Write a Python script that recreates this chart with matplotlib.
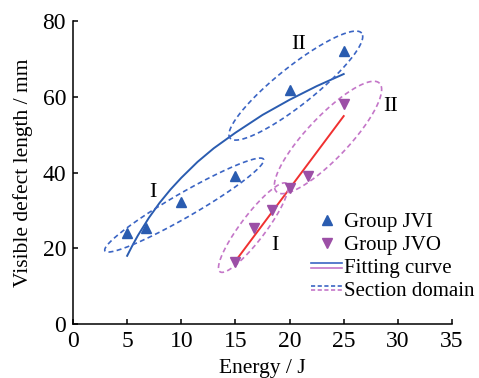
import numpy as np
import matplotlib
matplotlib.use("Agg")
import matplotlib.pyplot as plt
from matplotlib.lines import Line2D
from matplotlib.legend_handler import HandlerBase

plt.rcParams['font.family'] = ['Liberation Serif', 'DejaVu Serif']

# ---- data ----
jvi_x = [5, 6.7, 10, 15, 20, 25]
jvi_y = [24, 25.4, 32.3, 39, 61.7, 72.1]
jvo_x = [15, 16.7, 18.4, 20, 21.7, 25]
jvo_y = [16.3, 25.4, 30, 35.8, 39, 58]
# fitting curves
fit_jvi_x = [5, 5.5, 6, 7, 8, 9, 10, 11.5, 13, 15, 17.5, 20, 22.5, 25]
fit_jvi_y = [18, 20.8, 23.4, 28, 32, 35.5, 38.6, 42.8, 46.4, 50.5, 55.2, 59.2, 62.8, 66]
fit_jvo_x = [15, 25]
fit_jvo_y = [16.6, 54.9]
# section domains: (tip1, tip2) in data units, semi-minor width in px
domains = {
    'jvi_I': ((2.95, 19.3), (17.6, 43.5), 12),
    'jvi_II': ((14.5, 49.1), (26.66, 76.8), 19),
    'jvo_I': ((13.57, 13.8), (19.73, 37.1), 12.5),
    'jvo_II': ((18.8, 34.9), (28.3, 63.6), 21),
}
region_labels = [('I', 7.4, 34.8), ('II', 20.8, 73.9), ('II', 29.3, 57.3), ('I', 18.65, 20.8)]
x_ticks = [0, 5, 10, 15, 20, 25, 30, 35]
y_ticks = [0, 20, 40, 60, 80]

blue = '#2a5cb0'
blue_d = '#3b65c4'
purple = '#9c4fa6'
purple_d = '#c476c8'
red = '#f03030'

fig = plt.figure(figsize=(4.79, 3.78), dpi=100)
ax = fig.add_axes([0.1524, 0.1429, 0.7912, 0.8015])
ax.set_xlim(0, 35)
ax.set_ylim(0, 80)
ax.set_xticks(x_ticks)
ax.set_yticks(y_ticks)
for s in ['top', 'right']:
    ax.spines[s].set_visible(False)
for s in ['left', 'bottom']:
    ax.spines[s].set_linewidth(1.1)
ax.tick_params(direction='in', length=3.5, width=1.1, labelsize=17, pad=5)
ax.set_xlabel('Energy / J', fontsize=15.5, labelpad=5)
ax.set_ylabel('Visible defect length / mm', fontsize=15.5, labelpad=7)

# fitting curves
ax.plot(fit_jvi_x, fit_jvi_y, color=blue, lw=1.4)
ax.plot(fit_jvo_x, fit_jvo_y, color=red, lw=1.4)

# ellipses
fig.canvas.draw()
def draw_domain(tip1, tip2, b, color):
    p1 = ax.transData.transform(tip1)
    p2 = ax.transData.transform(tip2)
    c = (p1 + p2) / 2
    u = (p2 - p1) / 2
    a = np.hypot(*u)
    e = u / a
    n = np.array([-e[1], e[0]])
    t = np.linspace(0, 2 * np.pi, 300)
    pts = c[None, :] + np.outer(np.cos(t), u) + np.outer(np.sin(t), n * b)
    d = ax.transData.inverted().transform(pts)
    ax.plot(d[:, 0], d[:, 1], color=color, lw=1.2, ls=(0, (3, 2)))

draw_domain(*domains['jvi_I'], blue_d)
draw_domain(*domains['jvi_II'], blue_d)
draw_domain(*domains['jvo_I'], purple_d)
draw_domain(*domains['jvo_II'], purple_d)

ax.plot(jvi_x, jvi_y, ls='none', marker='^', ms=7, color=blue)
ax.plot(jvo_x, jvo_y, ls='none', marker='v', ms=7, color=purple)

for txt, x, y in region_labels:
    ax.text(x, y, txt, fontsize=16, ha='center', va='center')

class DoubleLine:
    def __init__(self, ls):
        self.ls = ls

class DoubleHandler(HandlerBase):
    def create_artists(self, legend, orig_handle, xdescent, ydescent,
                       width, height, fontsize, trans):
        yc = height / 2 - ydescent
        x0, x1 = -xdescent, -xdescent + width
        l1 = Line2D([x0, x1], [yc + 1.5, yc + 1.5], color=blue_d, lw=1.2,
                    ls=orig_handle.ls, transform=trans)
        l2 = Line2D([x0, x1], [yc - 1.5, yc - 1.5], color=purple_d, lw=1.2,
                    ls=orig_handle.ls, transform=trans)
        return [l1, l2]

h1 = Line2D([], [], ls='none', marker='^', ms=7, color=blue)
h2 = Line2D([], [], ls='none', marker='v', ms=7, color=purple)
h3 = DoubleLine('-')
h4 = DoubleLine((0, (2.5, 1.5)))
ax.legend([h1, h2, h3, h4], ['Group JVI', 'Group JVO', 'Fitting curve', 'Section domain'],
          handler_map={DoubleLine: DoubleHandler()},
          loc='lower right', bbox_to_anchor=(1.082, 0.05), frameon=False,
          fontsize=15, handlelength=1.5, handletextpad=0.1, labelspacing=0.15,
          borderaxespad=0)

fig.savefig('out.png', dpi=100)
